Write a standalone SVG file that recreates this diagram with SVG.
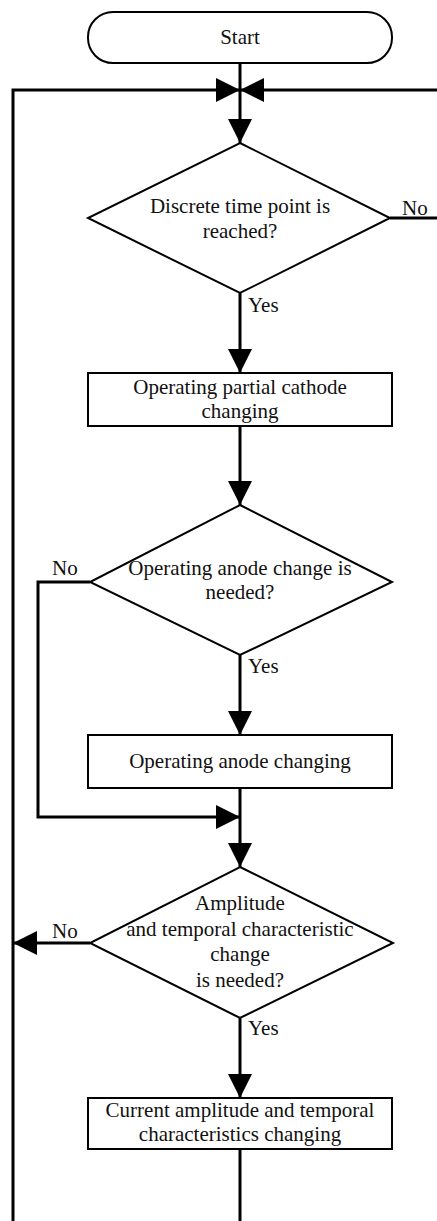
<svg xmlns="http://www.w3.org/2000/svg" width="437" height="1221" viewBox="0 0 437 1221">
<style>
.shape{fill:#fff;stroke:#000;stroke-width:2}
.conn{fill:none;stroke:#000;stroke-width:3}
text{font-family:"Liberation Serif","Times New Roman",serif;font-size:21px;fill:#111}
.c{text-anchor:middle}
</style>
<defs>
<marker id="arr" viewBox="0 0 24 24" refX="24" refY="12" markerWidth="24" markerHeight="24" markerUnits="userSpaceOnUse" orient="auto">
<path d="M0,0 L24,12 L0,24 z" fill="#000"/>
</marker>
</defs>
<rect width="437" height="1221" fill="#fff"/>
<g id="connectors">
<path class="conn" d="M240,63 V143" marker-end="url(#arr)"/>
<path class="conn" d="M13,1221 V90 H240" marker-end="url(#arr)"/>
<path class="conn" d="M390,218 H439 V90 H240" marker-end="url(#arr)"/>
<path class="conn" d="M240,293 V373" marker-end="url(#arr)"/>
<path class="conn" d="M240,426 V505" marker-end="url(#arr)"/>
<path class="conn" d="M90,582 H38 V817 H240" marker-end="url(#arr)"/>
<path class="conn" d="M240,655 V735" marker-end="url(#arr)"/>
<path class="conn" d="M240,788 V867" marker-end="url(#arr)"/>
<path class="conn" d="M90,943 H13" marker-end="url(#arr)"/>
<path class="conn" d="M240,1018 V1098" marker-end="url(#arr)"/>
<path class="conn" d="M240,1149 V1221"/>
<text x="402" y="215">No</text>
<text x="248" y="312">Yes</text>
<text x="52" y="575">No</text>
<text x="248" y="673">Yes</text>
<text x="52" y="938">No</text>
<text x="248" y="1035">Yes</text>
</g>
<g id="start">
<rect class="shape" x="88" y="12" width="304" height="51" rx="25" ry="25"/>
<text class="c" x="240" y="44">Start</text>
</g>
<g id="d1">
<polygon class="shape" points="240,143 390,218 240,293 88,218"/>
<text class="c" x="240" y="213">Discrete time point is</text>
<text class="c" x="240" y="238">reached?</text>
</g>
<g id="box1">
<rect class="shape" x="88" y="373" width="304" height="53"/>
<text class="c" x="240" y="394">Operating partial cathode</text>
<text class="c" x="240" y="418">changing</text>
</g>
<g id="d2">
<polygon class="shape" points="240,505 392,582 240,655 90,582"/>
<text class="c" x="240" y="575">Operating anode change is</text>
<text class="c" x="240" y="599">needed?</text>
</g>
<g id="box2">
<rect class="shape" x="88" y="735" width="304" height="53"/>
<text class="c" x="240" y="768">Operating anode changing</text>
</g>
<g id="d3">
<polygon class="shape" points="240,867 393,943 240,1018 90,943"/>
<text class="c" x="240" y="910">Amplitude</text>
<text class="c" x="240" y="936">and temporal characteristic</text>
<text class="c" x="240" y="961">change</text>
<text class="c" x="240" y="987">is needed?</text>
</g>
<g id="box3">
<rect class="shape" x="88" y="1098" width="304" height="51"/>
<text class="c" x="240" y="1117">Current amplitude and temporal</text>
<text class="c" x="240" y="1141">characteristics changing</text>
</g>
</svg>
